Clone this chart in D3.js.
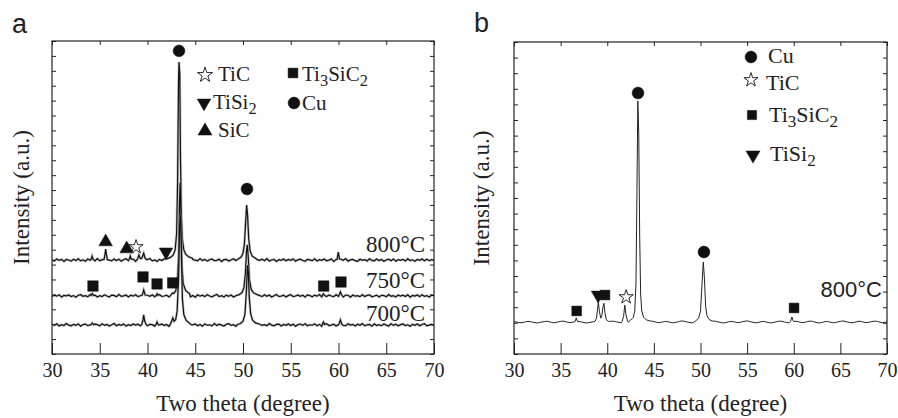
<!DOCTYPE html>
<html lang="en">
<head>
<meta charset="UTF-8">
<title>XRD patterns</title>
<style>
  body { margin: 0; background: #fff; }
  text { fill: #222; }
</style>
</head>
<body>
<svg id="chart" width="898" height="418"></svg>
<script src="https://cdn.jsdelivr.net/npm/d3@7/dist/d3.min.js"></script>
<script>
// ---- data ----
const xTicks = [30, 35, 40, 45, 50, 55, 60, 65, 70];
const gridStart = 30, gridStep = 0.25;
const SERIF = '"Liberation Serif", "Times New Roman", serif';
const SANS = '"Liberation Sans", Arial, sans-serif';

// panel a: vertical offsets (a.u.) of the three patterns
const tempsA = ["800°C", "750°C", "700°C"];
const offsetsA = [630, 390, 195];

// baseline noise, one value every 0.25 deg
const noise800 = [3,-6,8,-2,5,-9,4,1,-7,6,-3,9,-5,2,-8,7,-1,4,-6,10,
  -4,3,-9,5,0,-5,8,-3,6,-7,2,9,-4,-1,7,-8,4,-2,6,-6,
  3,11,-5,1,-9,5,-3,8,-2,-7,6,2,-4,9,-6,3,-1,7,-8,4,
  0,-5,10,-3,5,-7,2,8,-4,-2,6,-9,3,5,-6,1,9,-3,-7,4,
  -1,7,-5,2,8,-8,3,-2,6,-4,10,-6,1,5,-9,3,-2,7,-5,4,
  -1,8,-7,2,6,-3,-8,5,1,-4,9,-6,3,-2,7,-5,0,8,-9,4,
  -3,6,-1,10,-7,2,5,-4,-8,6,-1,3,-6,9,-2,-5,7,-3,4,-8,
  1,6,-4,8,-7,3,-1,5,-6,9,-3,2,-8,4,-2,7,-5,6,-4,3,-2];
const noise750 = [-4,5,-2,7,-8,3,0,6,-5,2,-9,4,8,-3,1,-6,9,-2,5,-7,
  2,-4,7,-1,-8,5,3,-6,9,-3,0,6,-7,4,-2,8,-5,1,-9,6,
  4,-3,7,-6,2,9,-4,-1,5,-8,3,6,-2,-7,8,-4,1,5,-6,3,
  -9,7,-2,4,-5,8,-1,-6,3,10,-4,2,-7,5,-3,6,-8,1,7,-2,
  5,-6,3,-1,8,-9,4,2,-5,7,-3,6,-8,1,9,-4,-2,5,-7,3,
  8,-5,-1,6,-3,4,-8,7,2,-6,5,-2,9,-7,3,-4,6,-1,-5,8,
  -3,2,-7,5,4,-9,6,-2,1,-5,8,-4,3,7,-6,-1,5,-8,4,2,
  -6,9,-3,1,-7,6,-2,5,-4,8,-9,3,-1,6,-5,7,-3,2,-8,5,1];
const noise700 = [5,-3,8,-7,2,-4,9,-1,-6,4,-2,7,-8,3,6,-5,1,-9,5,2,
  -6,8,-3,4,-7,1,10,-5,3,-2,6,-8,2,-4,7,-1,5,-6,9,-3,
  -5,4,2,-8,6,-1,7,-4,3,-9,5,1,-6,8,-2,-3,9,-7,4,0,
  6,-5,3,-8,7,-2,1,-6,9,-4,5,-1,-7,4,8,-3,2,-9,6,-2,
  3,-6,7,-4,1,8,-8,5,-3,2,-5,9,-1,-6,4,6,-7,3,-2,7,
  -4,5,-9,2,6,-3,8,-6,1,-2,7,-5,4,-8,3,9,-4,-1,5,-7,
  2,6,-3,-5,8,-1,4,-7,5,-2,9,-6,1,3,-8,7,-4,2,-5,6,
  -1,-7,8,-3,5,-6,2,7,-4,1,-9,4,-2,6,-5,3,8,-6,-1,4,-3];

// peaks: [2theta, intensity above baseline]
const peaks800 = [
  [[34.1,5],[34.2,27],[34.3,6]],
  [[35.45,4],[35.55,40],[35.62,74],[35.7,38],[35.8,3]],
  [[38.1,8],[38.2,27],[38.3,6]],
  [[38.95,6],[39.1,34],[39.25,10],[39.4,12],[39.6,47],[39.75,12],[39.9,4]],
  [[42.0,8],[42.4,18],[42.7,35],[42.9,70],[43.05,180],[43.15,520],[43.25,1200],[43.3,1329],[43.38,1250],[43.45,700],[43.55,300],[43.65,140],[43.8,70],[44.0,40],[44.3,22],[44.7,12]],
  [[49.5,8],[49.8,20],[50.0,45],[50.15,110],[50.28,260],[50.38,369],[50.48,300],[50.6,140],[50.75,60],[50.95,28],[51.3,12]],
  [[59.85,5],[59.98,54],[60.1,8]]
];
const peaks750 = [
  [[34.1,3],[34.22,15],[34.35,2]],
  [[39.45,5],[39.6,40],[39.75,6]],
  [[40.9,2],[41.0,14],[41.1,3]],
  [[42.45,5],[42.6,20],[42.75,16],[42.95,32],[43.1,80],[43.25,250],[43.35,620],[43.42,758],[43.5,560],[43.6,200],[43.75,80],[44.0,35],[44.4,15]],
  [[49.6,8],[49.9,22],[50.1,55],[50.25,150],[50.37,300],[50.45,342],[50.55,260],[50.68,110],[50.85,45],[51.1,20],[51.5,8]],
  [[58.3,2],[58.42,14],[58.55,2]],
  [[60.05,4],[60.2,27],[60.35,4]]
];
const peaks700 = [
  [[34.1,2],[34.22,13],[34.35,2]],
  [[39.4,4],[39.52,30],[39.6,67],[39.7,28],[39.85,3]],
  [[40.9,3],[41.0,20],[41.12,2]],
  [[42.4,5],[42.55,30],[42.65,47],[42.78,25],[42.95,35],[43.1,90],[43.25,300],[43.35,650],[43.45,738],[43.55,500],[43.65,180],[43.8,70],[44.05,30],[44.4,12]],
  [[49.7,8],[50.0,25],[50.2,70],[50.35,220],[50.47,400],[50.55,360],[50.65,190],[50.8,75],[51.0,32],[51.3,14],[51.7,6]],
  [[58.3,3],[58.42,20],[58.55,3]],
  [[60.05,5],[60.2,34],[60.35,5]]
];

// panel b
const offsetB = 205;
const noiseB = [2,0,-3,-5,-2,1,4,2,-1,-4,-6,-3,0,3,5,2,-2,-5,-3,1,
  4,6,3,-1,-4,-2,2,5,3,0,-3,-6,-4,-1,2,4,1,-2,-5,-3,
  0,3,6,4,1,-2,-5,-7,-4,-1,3,5,2,-1,-3,-6,-2,1,4,6,
  3,-1,-4,-2,1,4,2,-2,-5,-3,0,4,7,5,1,-2,-5,-3,0,3,
  5,2,-2,-4,-1,3,6,3,-1,-4,-6,-3,1,4,2,-1,-4,-2,2,5,
  7,4,0,-3,-5,-2,2,4,1,-3,-6,-4,0,3,6,4,0,-3,-5,-1,
  3,5,2,-2,-4,-1,3,6,4,0,-4,-6,-3,1,4,2,-2,-5,-3,1,
  4,7,4,0,-3,-5,-2,2,5,3,-1,-4,-2,1,4,6,3,-1,-4,-2,1];
const peaksB = [
  [[36.55,3],[36.68,26],[36.8,4]],
  [[38.7,5],[38.85,25],[38.95,80],[39.05,128],[39.15,70],[39.3,25],[39.42,40],[39.55,100],[39.65,120],[39.75,60],[39.9,15],[40.1,5]],
  [[41.6,5],[41.75,35],[41.88,109],[42.0,50],[42.15,12]],
  [[42.5,12],[42.8,30],[42.95,70],[43.08,250],[43.18,800],[43.28,1417],[43.38,1200],[43.48,550],[43.58,180],[43.7,70],[43.9,30],[44.2,14],[44.6,6]],
  [[49.5,8],[49.8,25],[50.0,70],[50.15,230],[50.3,385],[50.42,280],[50.55,100],[50.7,40],[50.95,15],[51.3,6]],
  [[59.65,4],[59.8,32],[59.95,6]]
];

// phase markers: [2theta, intensity]
const markersA = {
  Cu: [[43.3, 2034], [50.42, 1107]],
  SiC: [[35.62, 752], [37.82, 705]],
  TiC: [[38.8, 718]],
  TiSi2: [[41.94, 685]],
  Ti3SiC2: [[34.29, 456], [39.53, 517], [41.0, 470], [42.64, 477], [58.45, 456], [60.26, 483]]
};
const markersB = {
  Cu: [[43.3, 1673], [50.37, 654]],
  TiC: [[42.03, 365]],
  TiSi2: [[39.02, 378]],
  Ti3SiC2: [[36.72, 276], [39.76, 378], [60.03, 295]]
};

// ---- drawing ----
const svg = d3.select("#chart").style("font-family", SERIF);
svg.append("rect").attr("width", 898).attr("height", 418).attr("fill", "#fff");

function buildCurve(noise, peaks, offset) {
  const pts = [];
  noise.forEach((v, i) => {
    const x = gridStart + i * gridStep;
    if (x > 70) return;
    if (peaks.some(c => x >= c[0][0] && x <= c[c.length - 1][0])) return;
    pts.push([x, v + offset]);
  });
  peaks.forEach(c => c.forEach(p => pts.push([p[0], p[1] + offset])));
  return pts.sort((a, b) => a[0] - b[0]);
}

const symbolFor = {
  Cu: { type: d3.symbolCircle, size: 110, fill: "#111", rot: 0 },
  SiC: { type: d3.symbolTriangle, size: 80, fill: "#111", rot: 0 },
  TiSi2: { type: d3.symbolTriangle, size: 80, fill: "#111", rot: 180 },
  TiC: { type: d3.symbolStar, size: 62, fill: "#fff", rot: 0 },
  Ti3SiC2: { type: d3.symbolSquare, size: 110, fill: "#111", rot: 0 }
};

function drawSymbol(g, name, x, y, size) {
  const s = symbolFor[name];
  g.append("path")
    .attr("d", d3.symbol().type(s.type).size(size || s.size)())
    .attr("transform", `translate(${x},${y}) rotate(${s.rot})`)
    .attr("fill", s.fill)
    .attr("stroke", "#111")
    .attr("stroke-width", name === "TiC" ? 0.9 : 0.5);
}

function panel(box, yMax) {
  const x = d3.scaleLinear().domain([30, 70]).range([box.left, box.right]);
  const y = d3.scaleLinear().domain([0, yMax]).range([box.bottom, box.top]);
  const yTicks = d3.range(0, yMax + 1, 100);

  const bottom = svg.append("g").attr("transform", `translate(0,${box.bottom})`)
    .call(d3.axisBottom(x).tickValues(xTicks).tickSize(-11).tickFormat(d3.format("d")));
  bottom.attr("font-family", null).attr("font-size", null);
  bottom.selectAll("text").attr("y", 9)
    .style("font-family", SERIF).style("font-size", "20px").style("fill", "#222");
  svg.append("g").attr("transform", `translate(0,${box.top})`)
    .call(d3.axisTop(x).tickValues(xTicks).tickSize(-4).tickFormat(""));
  svg.append("g").attr("transform", `translate(${box.left},0)`)
    .call(d3.axisLeft(y).tickValues(yTicks).tickSize(-4).tickFormat(""));
  svg.append("g").attr("transform", `translate(${box.right},0)`)
    .call(d3.axisRight(y).tickValues(yTicks).tickSize(-4).tickFormat(""));
  svg.selectAll(".domain").remove();
  svg.selectAll(".tick line").attr("stroke", "#222");

  svg.append("rect")
    .attr("x", box.left).attr("y", box.top)
    .attr("width", box.right - box.left).attr("height", box.bottom - box.top)
    .attr("fill", "none").attr("stroke", "#222").attr("stroke-width", 1.2);

  svg.append("text")
    .attr("x", (box.left + box.right) / 2).attr("y", 411)
    .attr("text-anchor", "middle").style("font-size", "23px")
    .text("Two theta (degree)");
  svg.append("text")
    .attr("transform", `translate(${box.titleX},${(box.top + box.bottom) / 2}) rotate(-90)`)
    .attr("text-anchor", "middle").style("font-size", "23px")
    .text("Intensity (a.u.)");
  return { x, y };
}

function legendText(g, x, y, parts, size) {
  const t = g.append("text").attr("x", x).attr("y", y)
    .style("font-family", SERIF).style("font-size", size + "px");
  let shift = 0;
  parts.forEach(p => {
    const sub = /^\d$/.test(p);
    const dy = sub ? 5 - shift : -shift;
    shift = sub ? 5 : 0;
    t.append("tspan").attr("dy", dy).style("font-size", sub ? (size * 0.78) + "px" : null).text(p);
  });
}

// ----- panel a -----
const boxA = { left: 52, right: 434, top: 41, bottom: 354, titleX: 29 };
const A = panel(boxA, 2100);
const line = sc => d3.line().x(d => sc.x(d[0])).y(d => sc.y(d[1]));
const curvesA = [
  buildCurve(noise800, peaks800, offsetsA[0]),
  buildCurve(noise750, peaks750, offsetsA[1]),
  buildCurve(noise700, peaks700, offsetsA[2])
];
curvesA.forEach(c => {
  svg.append("path").datum(c).attr("d", line(A))
    .attr("fill", "none").attr("stroke", "#999").attr("stroke-width", 2.6).attr("opacity", 0.55);
  svg.append("path").datum(c).attr("d", line(A))
    .attr("fill", "none").attr("stroke", "#111").attr("stroke-width", 1.2);
});
const tempY = [252, 288, 321];
tempsA.forEach((t, i) => {
  svg.append("text").attr("x", 425).attr("y", tempY[i])
    .attr("text-anchor", "end").style("font-size", "23px").text(t);
});
Object.entries(markersA).forEach(([name, pts]) => {
  pts.forEach(p => drawSymbol(svg, name, A.x(p[0]), A.y(p[1])));
});

const legA = svg.append("g");
drawSymbol(legA, "TiC", 205, 75, 70);
legendText(legA, 218, 81, ["TiC"], 21);
drawSymbol(legA, "Ti3SiC2", 293, 73, 95);
legendText(legA, 302, 81, ["Ti", "3", "SiC", "2"], 21);
drawSymbol(legA, "TiSi2", 204, 103, 80);
legendText(legA, 213, 109, ["TiSi", "2"], 21);
drawSymbol(legA, "Cu", 294, 103, 110);
legendText(legA, 302, 110, ["Cu"], 21);
drawSymbol(legA, "SiC", 205, 131, 85);
legendText(legA, 218, 137, ["SiC"], 21);

svg.append("text").attr("x", 12).attr("y", 33)
  .style("font-family", SANS).style("font-size", "27px").text("a");

// ----- panel b -----
const boxB = { left: 514, right: 887, top: 42, bottom: 354, titleX: 489 };
const B = panel(boxB, 2000);
svg.append("path").datum(buildCurve(noiseB, peaksB, offsetB)).attr("d", line(B))
  .attr("fill", "none").attr("stroke", "#222").attr("stroke-width", 1);
Object.entries(markersB).forEach(([name, pts]) => {
  pts.forEach(p => drawSymbol(svg, name, B.x(p[0]), B.y(p[1]), name === "Ti3SiC2" ? 95 : null));
});
svg.append("text").attr("x", 882).attr("y", 297)
  .attr("text-anchor", "end").style("font-family", SANS).style("font-size", "22px").text("800°C");

const legB = svg.append("g");
drawSymbol(legB, "Cu", 751, 57, 110);
legendText(legB, 768, 63, ["Cu"], 22);
drawSymbol(legB, "TiC", 751, 80, 62);
legendText(legB, 766, 90, ["TiC"], 22);
drawSymbol(legB, "Ti3SiC2", 752, 115, 85);
legendText(legB, 769, 122, ["Ti", "3", "SiC", "2"], 22);
drawSymbol(legB, "TiSi2", 753, 155, 85);
legendText(legB, 770, 161, ["TiSi", "2"], 22);

svg.append("text").attr("x", 474).attr("y", 32)
  .style("font-family", SANS).style("font-size", "27px").text("b");
</script>
</body>
</html>
